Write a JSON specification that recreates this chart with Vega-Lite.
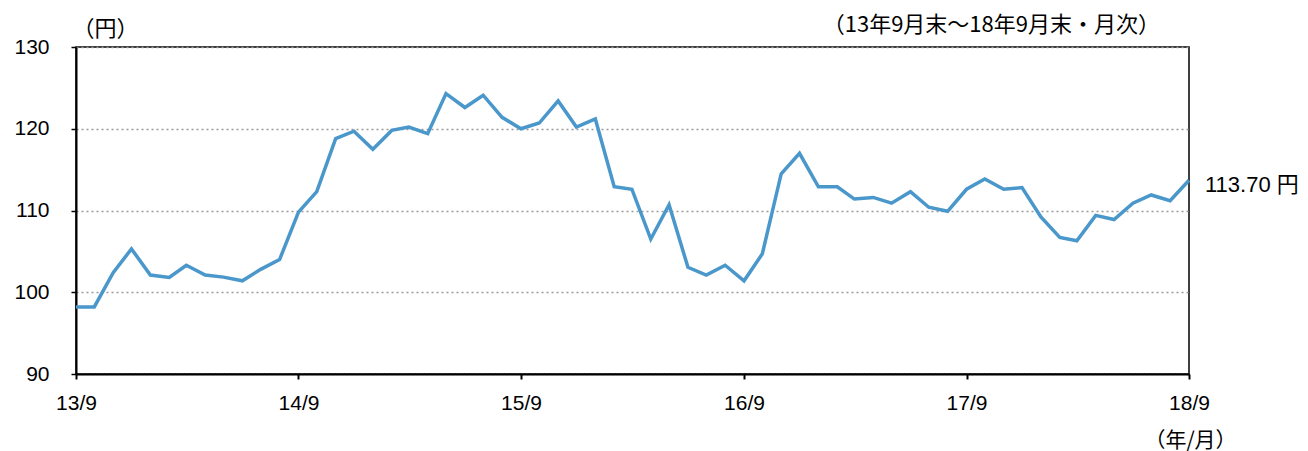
{
  "$schema": "https://vega.github.io/schema/vega-lite/v6.json",
  "autosize": "none",
  "width": 1113,
  "height": 327,
  "padding": {"left": 76, "top": 47, "right": 119, "bottom": 77},
  "background": "white",
  "config": {
    "font": "Liberation Sans, Noto Sans CJK JP",
    "view": {"stroke": "black", "strokeWidth": 1.5}
  },
  "title": {
    "text": "（13年9月末～18年9月末・月次）",
    "anchor": "end",
    "frame": "group",
    "orient": "top",
    "dx": -29,
    "dy": 30,
    "offset": 10,
    "font": "Noto Sans CJK JP",
    "fontSize": 22,
    "fontWeight": "normal",
    "color": "black"
  },
  "data": {
    "values": [
      {"month": "2013-09-01T00:00:00", "rate": 98.2},
      {"month": "2013-10-01T00:00:00", "rate": 98.2},
      {"month": "2013-11-01T00:00:00", "rate": 102.4},
      {"month": "2013-12-01T00:00:00", "rate": 105.3},
      {"month": "2014-01-01T00:00:00", "rate": 102.1},
      {"month": "2014-02-01T00:00:00", "rate": 101.8},
      {"month": "2014-03-01T00:00:00", "rate": 103.3},
      {"month": "2014-04-01T00:00:00", "rate": 102.1},
      {"month": "2014-05-01T00:00:00", "rate": 101.85},
      {"month": "2014-06-01T00:00:00", "rate": 101.4},
      {"month": "2014-07-01T00:00:00", "rate": 102.8},
      {"month": "2014-08-01T00:00:00", "rate": 104.0},
      {"month": "2014-09-01T00:00:00", "rate": 109.8},
      {"month": "2014-10-01T00:00:00", "rate": 112.3},
      {"month": "2014-11-01T00:00:00", "rate": 118.8},
      {"month": "2014-12-01T00:00:00", "rate": 119.7},
      {"month": "2015-01-01T00:00:00", "rate": 117.5},
      {"month": "2015-02-01T00:00:00", "rate": 119.8},
      {"month": "2015-03-01T00:00:00", "rate": 120.2},
      {"month": "2015-04-01T00:00:00", "rate": 119.4},
      {"month": "2015-05-01T00:00:00", "rate": 124.3},
      {"month": "2015-06-01T00:00:00", "rate": 122.6},
      {"month": "2015-07-01T00:00:00", "rate": 124.1},
      {"month": "2015-08-01T00:00:00", "rate": 121.4},
      {"month": "2015-09-01T00:00:00", "rate": 120.0},
      {"month": "2015-10-01T00:00:00", "rate": 120.7},
      {"month": "2015-11-01T00:00:00", "rate": 123.4},
      {"month": "2015-12-01T00:00:00", "rate": 120.2},
      {"month": "2016-01-01T00:00:00", "rate": 121.2},
      {"month": "2016-02-01T00:00:00", "rate": 112.9},
      {"month": "2016-03-01T00:00:00", "rate": 112.6},
      {"month": "2016-04-01T00:00:00", "rate": 106.5},
      {"month": "2016-05-01T00:00:00", "rate": 110.7},
      {"month": "2016-06-01T00:00:00", "rate": 103.05},
      {"month": "2016-07-01T00:00:00", "rate": 102.1},
      {"month": "2016-08-01T00:00:00", "rate": 103.3},
      {"month": "2016-09-01T00:00:00", "rate": 101.4},
      {"month": "2016-10-01T00:00:00", "rate": 104.7},
      {"month": "2016-11-01T00:00:00", "rate": 114.5},
      {"month": "2016-12-01T00:00:00", "rate": 117.0},
      {"month": "2017-01-01T00:00:00", "rate": 112.9},
      {"month": "2017-02-01T00:00:00", "rate": 112.9},
      {"month": "2017-03-01T00:00:00", "rate": 111.4},
      {"month": "2017-04-01T00:00:00", "rate": 111.6},
      {"month": "2017-05-01T00:00:00", "rate": 110.9},
      {"month": "2017-06-01T00:00:00", "rate": 112.3},
      {"month": "2017-07-01T00:00:00", "rate": 110.4},
      {"month": "2017-08-01T00:00:00", "rate": 109.9},
      {"month": "2017-09-01T00:00:00", "rate": 112.6},
      {"month": "2017-10-01T00:00:00", "rate": 113.85},
      {"month": "2017-11-01T00:00:00", "rate": 112.6},
      {"month": "2017-12-01T00:00:00", "rate": 112.8},
      {"month": "2018-01-01T00:00:00", "rate": 109.2},
      {"month": "2018-02-01T00:00:00", "rate": 106.7},
      {"month": "2018-03-01T00:00:00", "rate": 106.3},
      {"month": "2018-04-01T00:00:00", "rate": 109.4},
      {"month": "2018-05-01T00:00:00", "rate": 108.9},
      {"month": "2018-06-01T00:00:00", "rate": 110.9},
      {"month": "2018-07-01T00:00:00", "rate": 111.9},
      {"month": "2018-08-01T00:00:00", "rate": 111.2},
      {"month": "2018-09-01T00:00:00", "rate": 113.7, "label": "113.70 円"}
    ]
  },
  "encoding": {
    "x": {
      "field": "month",
      "type": "temporal",
      "scale": {
        "domain": [
          {"year": 2013, "month": 9, "date": 1},
          {"year": 2018, "month": 9, "date": 1}
        ],
        "nice": false
      },
      "axis": {
        "values": [
          {"year": 2013, "month": 9, "date": 1},
          {"year": 2014, "month": 9, "date": 1},
          {"year": 2015, "month": 9, "date": 1},
          {"year": 2016, "month": 9, "date": 1},
          {"year": 2017, "month": 9, "date": 1},
          {"year": 2018, "month": 9, "date": 1}
        ],
        "format": "%y/%-m",
        "formatType": "time",
        "grid": false,
        "domainColor": "black",
        "domainWidth": 2,
        "tickColor": "black",
        "tickWidth": 2,
        "tickSize": 5,
        "labelFontSize": 21,
        "labelColor": "black",
        "labelPadding": 13,
        "labelFlush": false,
        "labelOverlap": false,
        "title": "（年/月）",
        "titleFont": "Noto Sans CJK JP",
        "titleFontSize": 21,
        "titleFontWeight": "normal",
        "titleColor": "black",
        "titleAngle": 0,
        "titleAlign": "center",
        "titleBaseline": "middle",
        "titleX": 1114,
        "titleY": 66
      }
    },
    "y": {
      "field": "rate",
      "type": "quantitative",
      "scale": {"domain": [90, 130], "nice": false, "zero": false},
      "axis": {
        "values": [90, 100, 110, 120, 130],
        "grid": true,
        "gridColor": "#9a9a9a",
        "gridDash": [2, 3],
        "gridWidth": 1.5,
        "domainColor": "black",
        "domainWidth": 2,
        "tickColor": "black",
        "tickWidth": 1.5,
        "tickSize": 5,
        "labelFontSize": 21,
        "labelColor": "black",
        "labelPadding": 22,
        "labelFlush": false,
        "labelOverlap": false,
        "title": "（円）",
        "titleFont": "Noto Sans CJK JP",
        "titleFontSize": 22,
        "titleFontWeight": "normal",
        "titleColor": "black",
        "titleAngle": 0,
        "titleAlign": "left",
        "titleBaseline": "middle",
        "titleX": -4,
        "titleY": -19
      }
    }
  },
  "layer": [
    {
      "mark": {"type": "line", "color": "#4a97cb", "strokeWidth": 3.5, "strokeJoin": "miter"}
    },
    {
      "transform": [{"filter": "datum.label != null"}],
      "mark": {
        "type": "text",
        "align": "left",
        "baseline": "middle",
        "dx": 16,
        "dy": 5,
        "fontSize": 22,
        "color": "black",
        "font": "Liberation Sans, Noto Sans CJK JP"
      },
      "encoding": {"text": {"field": "label"}}
    }
  ]
}
